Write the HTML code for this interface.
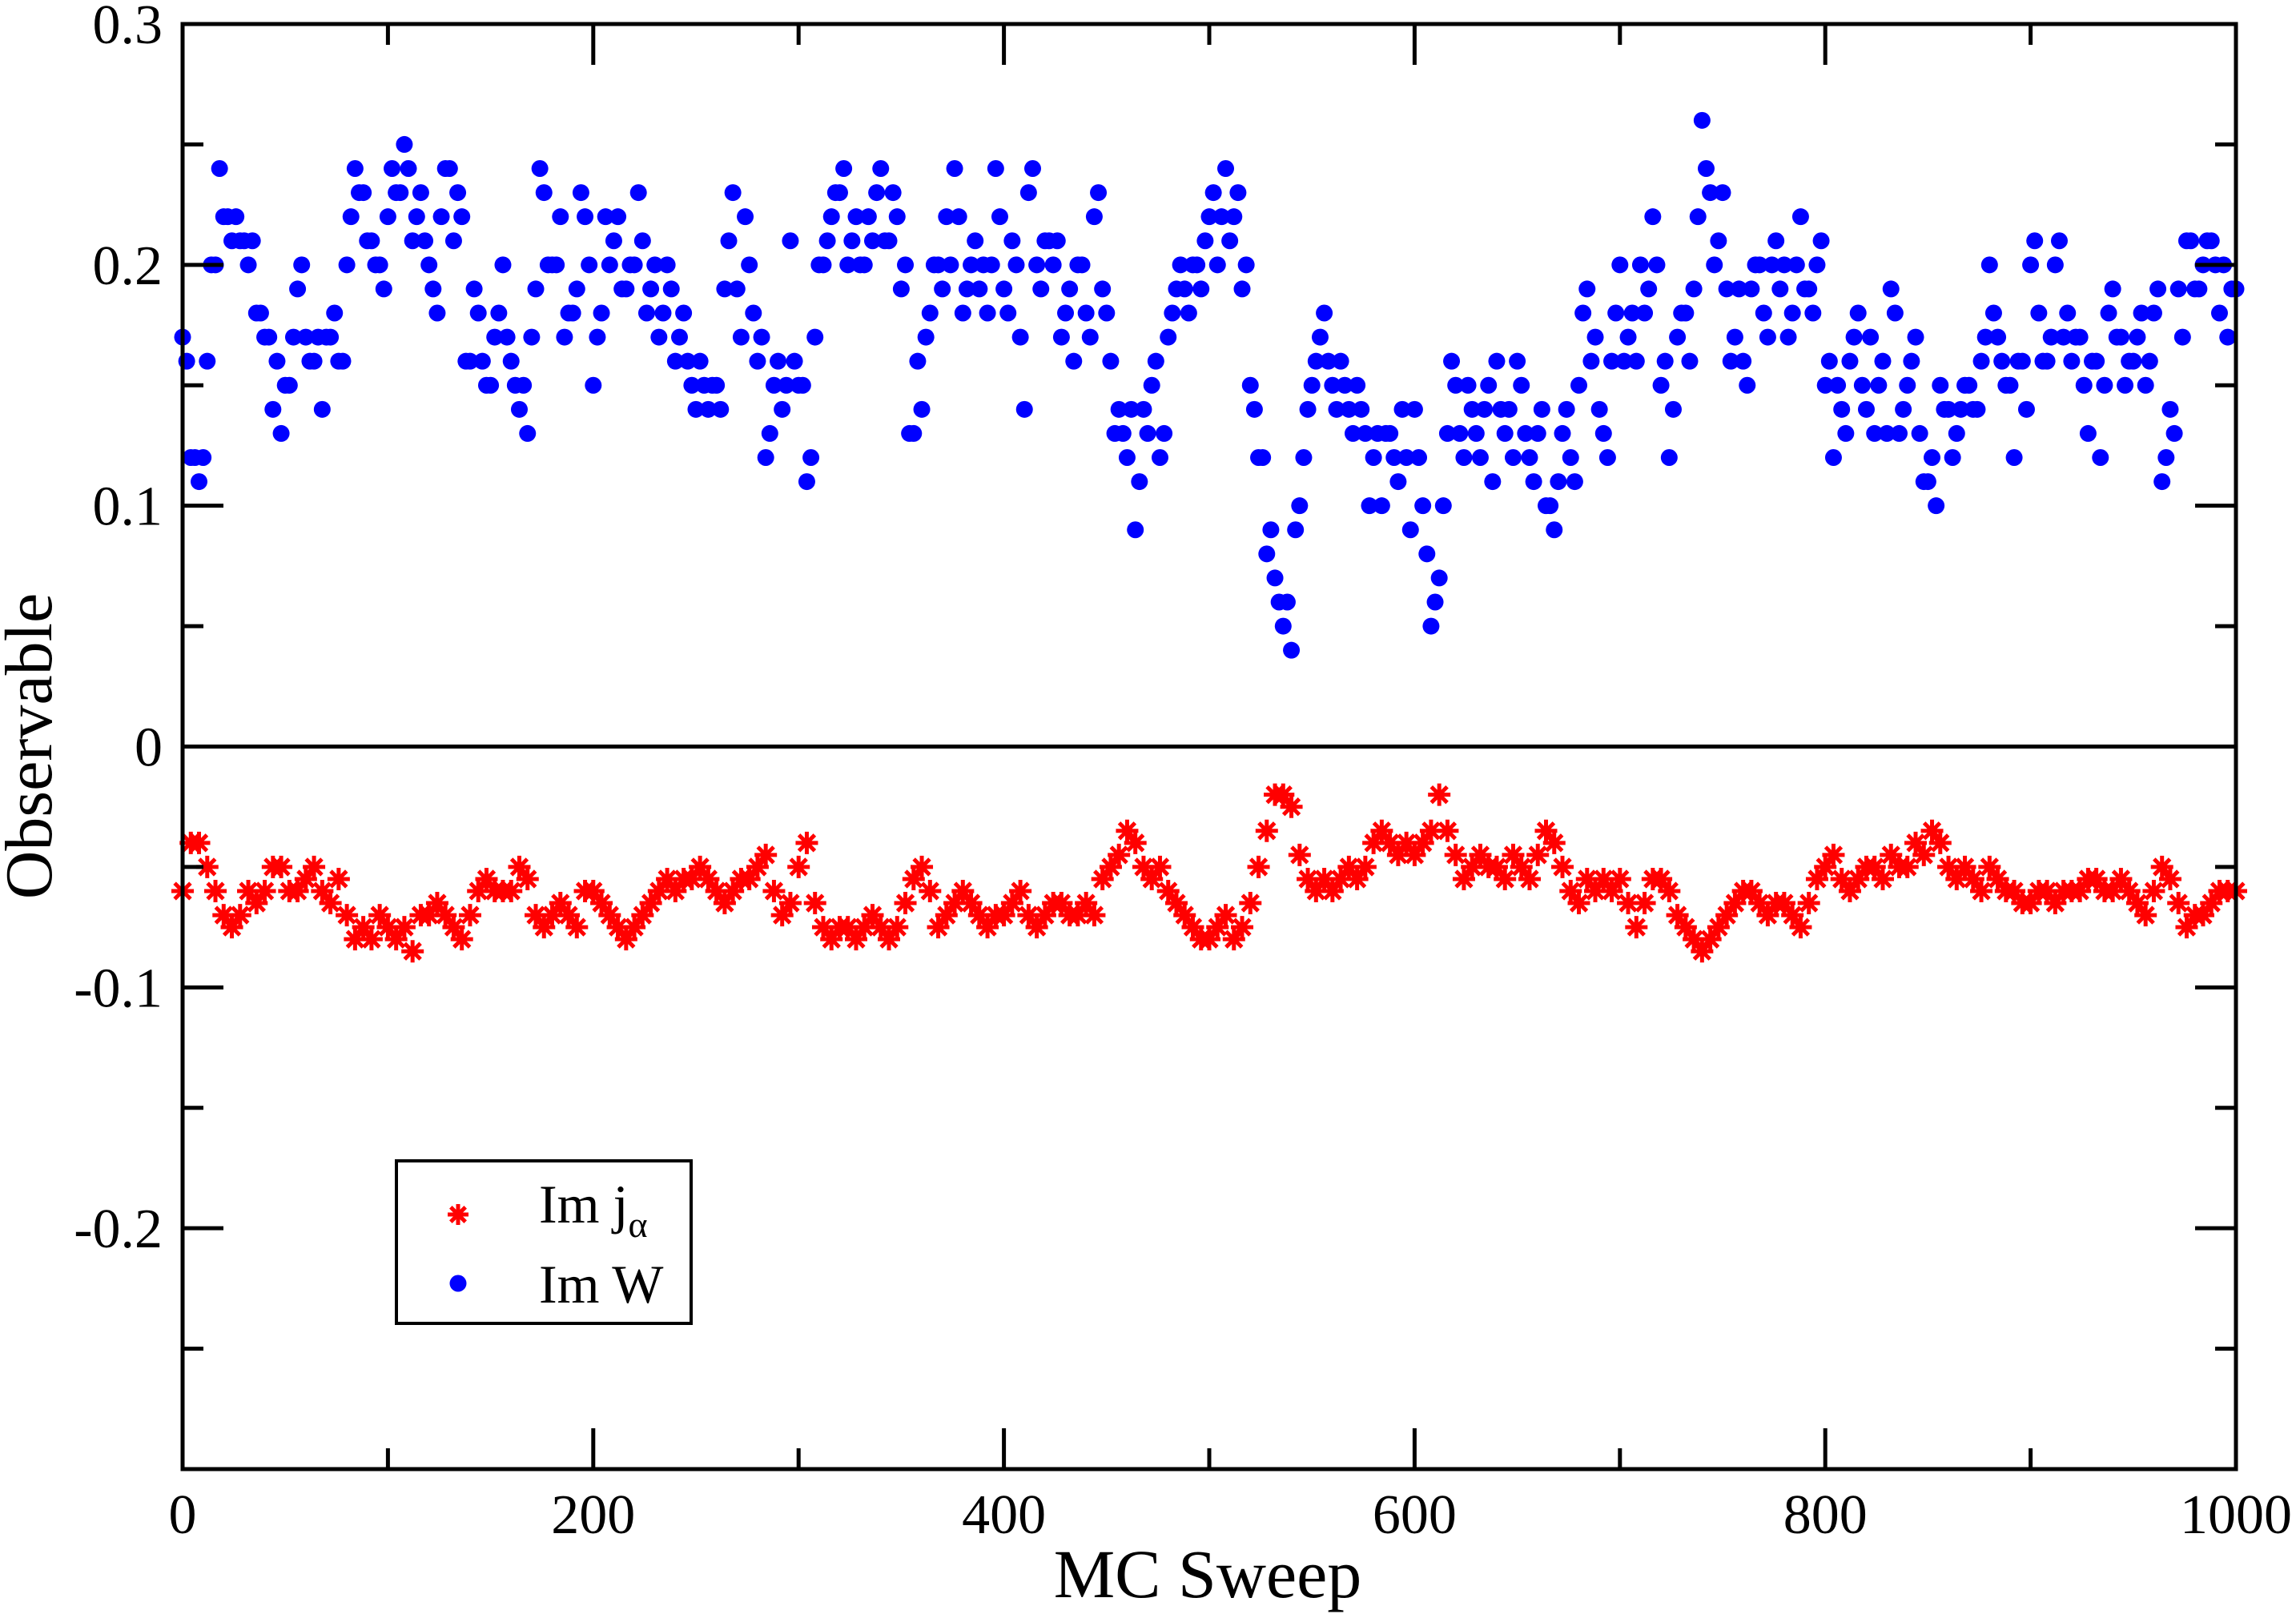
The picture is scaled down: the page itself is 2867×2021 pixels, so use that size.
<!DOCTYPE html>
<html><head><meta charset="utf-8"><style>
html,body{margin:0;padding:0;background:#fff}
svg{display:block}
text{font-family:"Liberation Serif",serif;fill:#000}
</style></head><body>
<svg id="chart" width="2867" height="2021" viewBox="0 0 2867 2021" xmlns="http://www.w3.org/2000/svg">
<g id="grid"></g>
<g id="blue"></g>
<g id="red"></g>
<g id="frame"></g>
<g id="legend">
  <rect x="495" y="1450" width="368" height="203" fill="#fff" stroke="#000" stroke-width="4"/>
  <text x="673" y="1527" font-size="68">Im j<tspan font-size="46" dy="18">α</tspan></text>
  <text x="673" y="1627" font-size="68">Im W</text>
</g>
<text x="1508" y="1995" font-size="86" text-anchor="middle">MC Sweep</text>
<text transform="translate(64,932) rotate(-90)" font-size="84" text-anchor="middle">Observable</text>
</svg>
<script>
const xTicks=[0,200,400,600,800,1000];
const yTicks=[0.3,0.2,0.1,0,-0.1,-0.2];
const yTickLabels=["0.3","0.2","0.1","0","-0.1","-0.2"];
const step=4;
const blueVals=[0.17,0.12,0.11,0.16,0.2,0.22,0.21,0.21,0.2,0.18,0.17,0.14,0.13,0.15,0.19,0.17,0.16,0.14,0.17,0.16,0.2,0.24,0.23,0.21,0.2,0.22,0.23,0.25,0.21,0.23,0.2,0.18,0.24,0.21,0.22,0.16,0.18,0.15,0.17,0.2,0.16,0.14,0.13,0.19,0.23,0.2,0.22,0.18,0.19,0.22,0.15,0.18,0.2,0.22,0.19,0.2,0.21,0.19,0.17,0.2,0.16,0.18,0.15,0.16,0.14,0.15,0.19,0.23,0.17,0.2,0.16,0.12,0.15,0.14,0.21,0.15,0.11,0.17,0.2,0.22,0.23,0.2,0.22,0.2,0.21,0.24,0.21,0.22,0.2,0.13,0.14,0.18,0.2,0.22,0.24,0.18,0.2,0.19,0.18,0.24,0.19,0.21,0.17,0.23,0.2,0.21,0.2,0.17,0.19,0.2,0.18,0.22,0.19,0.16,0.14,0.12,0.09,0.14,0.15,0.12,0.17,0.19,0.19,0.2,0.19,0.22,0.2,0.24,0.22,0.19,0.15,0.12,0.08,0.07,0.05,0.04,0.1,0.14,0.16,0.18,0.15,0.16,0.14,0.15,0.13,0.12,0.1,0.13,0.11,0.12,0.14,0.1,0.05,0.07,0.13,0.15,0.12,0.14,0.12,0.15,0.16,0.13,0.12,0.15,0.12,0.13,0.1,0.09,0.13,0.12,0.15,0.19,0.17,0.13,0.16,0.2,0.17,0.16,0.18,0.22,0.15,0.12,0.17,0.18,0.19,0.26,0.23,0.21,0.19,0.17,0.16,0.19,0.2,0.17,0.21,0.2,0.18,0.22,0.19,0.2,0.15,0.12,0.14,0.16,0.18,0.14,0.13,0.16,0.19,0.13,0.15,0.17,0.11,0.12,0.15,0.14,0.13,0.15,0.14,0.16,0.2,0.17,0.15,0.12,0.16,0.2,0.18,0.16,0.2,0.17,0.16,0.17,0.13,0.16,0.15,0.19,0.17,0.16,0.17,0.15,0.18,0.11,0.14,0.19,0.21,0.19,0.2,0.21,0.18,0.17,0.19];
const blueVals2=[0.16,0.12,0.12,0.2,0.24,0.22,0.22,0.21,0.21,0.18,0.17,0.16,0.15,0.17,0.2,0.16,0.17,0.17,0.18,0.16,0.22,0.23,0.21,0.2,0.19,0.24,0.23,0.24,0.22,0.21,0.19,0.22,0.24,0.23,0.16,0.19,0.16,0.15,0.18,0.17,0.15,0.15,0.17,0.24,0.2,0.2,0.17,0.18,0.23,0.2,0.17,0.22,0.21,0.19,0.2,0.23,0.18,0.2,0.18,0.19,0.17,0.16,0.14,0.15,0.15,0.14,0.21,0.19,0.22,0.18,0.17,0.13,0.16,0.15,0.16,0.15,0.12,0.2,0.21,0.23,0.24,0.21,0.2,0.22,0.23,0.21,0.23,0.19,0.13,0.16,0.17,0.2,0.19,0.2,0.22,0.19,0.21,0.2,0.2,0.22,0.18,0.2,0.14,0.24,0.19,0.21,0.21,0.18,0.16,0.2,0.17,0.23,0.18,0.13,0.13,0.14,0.11,0.13,0.16,0.13,0.18,0.2,0.18,0.2,0.21,0.23,0.22,0.21,0.23,0.2,0.14,0.12,0.09,0.06,0.06,0.09,0.12,0.15,0.17,0.16,0.14,0.15,0.13,0.14,0.1,0.13,0.13,0.12,0.14,0.09,0.12,0.08,0.06,0.1,0.16,0.13,0.15,0.13,0.14,0.11,0.14,0.14,0.16,0.13,0.11,0.14,0.1,0.11,0.14,0.11,0.18,0.16,0.14,0.12,0.18,0.16,0.18,0.2,0.19,0.2,0.16,0.14,0.18,0.16,0.22,0.24,0.2,0.23,0.16,0.19,0.15,0.2,0.18,0.2,0.19,0.17,0.2,0.19,0.18,0.21,0.16,0.15,0.13,0.17,0.15,0.17,0.15,0.13,0.18,0.14,0.16,0.13,0.11,0.1,0.14,0.12,0.14,0.15,0.14,0.17,0.18,0.16,0.15,0.16,0.14,0.21,0.16,0.17,0.21,0.18,0.17,0.15,0.16,0.12,0.18,0.17,0.15,0.16,0.18,0.16,0.19,0.12,0.13,0.17,0.21,0.19,0.21,0.2,0.2,0.19];
const redVals=[-0.06,-0.04,-0.04,-0.05,-0.06,-0.07,-0.075,-0.07,-0.06,-0.065,-0.06,-0.05,-0.05,-0.06,-0.06,-0.055,-0.05,-0.06,-0.065,-0.055,-0.07,-0.08,-0.075,-0.08,-0.07,-0.075,-0.08,-0.075,-0.085,-0.07,-0.07,-0.065,-0.07,-0.075,-0.08,-0.07,-0.06,-0.055,-0.06,-0.06,-0.06,-0.05,-0.055,-0.07,-0.075,-0.07,-0.065,-0.07,-0.075,-0.06,-0.06,-0.065,-0.07,-0.075,-0.08,-0.075,-0.07,-0.065,-0.06,-0.055,-0.06,-0.055,-0.055,-0.05,-0.055,-0.06,-0.065,-0.06,-0.055,-0.055,-0.05,-0.045,-0.06,-0.07,-0.065,-0.05,-0.04,-0.065,-0.075,-0.08,-0.075,-0.075,-0.08,-0.075,-0.07,-0.075,-0.08,-0.075,-0.065,-0.055,-0.05,-0.06,-0.075,-0.07,-0.065,-0.06,-0.065,-0.07,-0.075,-0.07,-0.07,-0.065,-0.06,-0.07,-0.075,-0.07,-0.065,-0.065,-0.07,-0.07,-0.065,-0.07,-0.055,-0.05,-0.045,-0.035,-0.04,-0.05,-0.055,-0.05,-0.06,-0.065,-0.07,-0.075,-0.08,-0.08,-0.075,-0.07,-0.08,-0.075,-0.065,-0.05,-0.035,-0.02,-0.02,-0.025,-0.045,-0.055,-0.06,-0.055,-0.06,-0.055,-0.05,-0.055,-0.05,-0.04,-0.035,-0.04,-0.045,-0.04,-0.045,-0.04,-0.035,-0.02,-0.035,-0.045,-0.055,-0.05,-0.045,-0.05,-0.05,-0.055,-0.045,-0.05,-0.055,-0.045,-0.035,-0.04,-0.05,-0.06,-0.065,-0.055,-0.06,-0.055,-0.06,-0.055,-0.065,-0.075,-0.065,-0.055,-0.055,-0.06,-0.07,-0.075,-0.08,-0.085,-0.08,-0.075,-0.07,-0.065,-0.06,-0.06,-0.065,-0.07,-0.065,-0.065,-0.07,-0.075,-0.065,-0.055,-0.05,-0.045,-0.055,-0.06,-0.055,-0.05,-0.05,-0.055,-0.045,-0.05,-0.05,-0.04,-0.045,-0.035,-0.04,-0.05,-0.055,-0.05,-0.055,-0.06,-0.05,-0.055,-0.06,-0.06,-0.065,-0.065,-0.06,-0.06,-0.065,-0.06,-0.06,-0.06,-0.055,-0.055,-0.06,-0.06,-0.055,-0.06,-0.065,-0.07,-0.06,-0.05,-0.055,-0.065,-0.075,-0.07,-0.07,-0.065,-0.06,-0.06,-0.06];

const L=228,R=2792,T=30,B=1835;
const xMin=0,xMax=1000,yMin=-0.3,yMax=0.3;
const sx=v=>L+(v-xMin)/(xMax-xMin)*(R-L);
const sy=v=>B-(v-yMin)/(yMax-yMin)*(B-T);
const NS="http://www.w3.org/2000/svg";
function mk(tag,parent,attrs){const e=document.createElementNS(NS,tag);for(const k in attrs)e.setAttribute(k,attrs[k]);parent.appendChild(e);return e;}
const frame=document.getElementById('frame');
const blue=document.getElementById('blue'),red=document.getElementById('red');

function starPath(cx,cy,r){const d=r*0.7071;return `M${cx-r},${cy}H${cx+r}M${cx},${cy-r}V${cy+r}M${cx-d},${cy-d}L${cx+d},${cy+d}M${cx-d},${cy+d}L${cx+d},${cy-d}`;}

let z=mk('line',frame,{x1:L,x2:R,y1:sy(0),y2:sy(0),stroke:'#000','stroke-width':5});


let fr=mk('rect',frame,{x:L,y:T,width:R-L,height:B-T,fill:'none',stroke:'#000','stroke-width':5});



for(let v=0;v<=1000;v+=100){
  const major=v%200===0,len=major?51:26,x=sx(v);
  let t1=mk('line',frame,{x1:x,x2:x,y1:B,y2:B-len,stroke:'#000','stroke-width':5});
  
  
  let t2=mk('line',frame,{x1:x,x2:x,y1:T,y2:T+len,stroke:'#000','stroke-width':5});
  
  
}
xTicks.forEach(v=>{
  let t=mk('text',frame,{x:sx(v),y:1915,'font-size':70,'text-anchor':'middle'});
  t.textContent=String(v);
  
  
});
for(let i=-6;i<=6;i++){
  const v=i*0.05,major=i%2===0,len=major?51:26,y=sy(v);
  let t1=mk('line',frame,{x1:L,x2:L+len,y1:y,y2:y,stroke:'#000','stroke-width':5});
  
  
  let t2=mk('line',frame,{x1:R,x2:R-len,y1:y,y2:y,stroke:'#000','stroke-width':5});
  
  
}
yTicks.forEach((v,i)=>{
  let t=mk('text',frame,{x:203,y:sy(v)+24,'font-size':70,'text-anchor':'end'});
  t.textContent=yTickLabels[i];
  
  
});
blueVals.forEach((v,i)=>{
  let c=mk('circle',blue,{cx:sx(i*step),cy:sy(v),r:10.5,fill:'#0000ff'});
  
  
});
blueVals2.forEach((v,i)=>{
  let c=mk('circle',blue,{cx:sx(i*step+2),cy:sy(v),r:10.5,fill:'#0000ff'});
  
  
});
redVals.forEach((v,i)=>{
  let p=mk('path',red,{d:starPath(sx(i*step),sy(v),14),stroke:'#ff0000','stroke-width':5,fill:'none'});
  
  
});
const lg=document.getElementById('legend');
let ls=mk('path',lg,{d:starPath(572,1517,13),stroke:'#ff0000','stroke-width':5,fill:'none'});


let lc=mk('circle',lg,{cx:572,cy:1603,r:10.5,fill:'#0000ff'});


</script>
</body></html>
